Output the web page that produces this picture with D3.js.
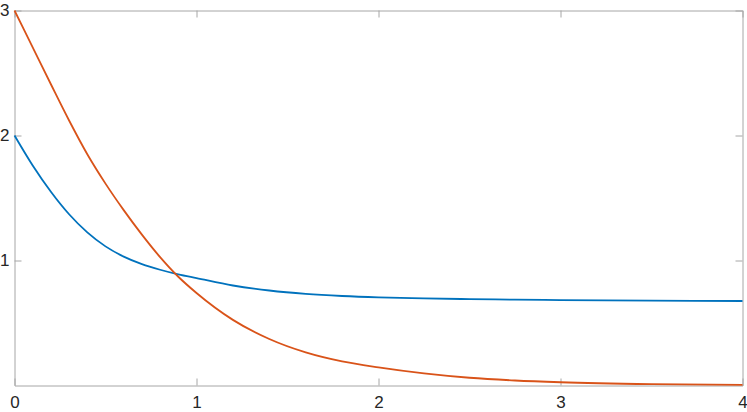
<!DOCTYPE html>
<html>
<head>
<meta charset="utf-8">
<script src="https://cdn.jsdelivr.net/npm/d3@7"></script>
<style>
  body { margin: 0; background: #fff; }
  .axis path, .axis line { stroke: #a6a6a6; }
  .axis text { font-family: 'Liberation Sans', Arial, sans-serif; font-size: 17px; fill: #262626; }
</style>
</head>
<body>
<script>
// values
const tValues = [0, 0.1, 0.2, 0.3, 0.4, 0.5, 0.6, 0.7, 0.8, 0.9, 1.0, 1.2, 1.4, 1.6, 1.8, 2.0, 2.25, 2.5, 2.75, 3.0, 3.5, 4.0]
const blueValues = [2.0, 1.76, 1.55, 1.37, 1.225, 1.113, 1.031, 0.971, 0.926, 0.889, 0.859, 0.80, 0.76, 0.733, 0.716, 0.705, 0.697, 0.691, 0.687, 0.683, 0.679, 0.676]
const orangeValues = [3.0, 2.705, 2.41, 2.12, 1.85, 1.615, 1.403, 1.207, 1.027, 0.87, 0.74, 0.525, 0.372, 0.265, 0.193, 0.145, 0.097, 0.062, 0.04, 0.026, 0.011, 0.005]
const xTicks = [0, 1, 2, 3, 4]
const yTicks = [1, 2, 3]

const width = 747, height = 412
const margin = {left: 14.5, right: 4.5, top: 10.5, bottom: 26.5}

const svg = d3.select('body').append('svg').attr('width', width).attr('height', height)

const x = d3.scaleLinear().domain([0, 4]).range([margin.left, width - margin.right])
const y = d3.scaleLinear().domain([0, 3]).range([height - margin.bottom, margin.top])

const tickLen = 7

// box with inward ticks on every side
svg.append('g').attr('class', 'axis')
  .attr('transform', `translate(0,${y(0)})`)
  .call(d3.axisBottom(x).tickValues(xTicks).tickSizeInner(-tickLen).tickSizeOuter(0).tickPadding(10).tickFormat(d3.format('d')))

svg.append('g').attr('class', 'axis')
  .attr('transform', `translate(${x(0)},0)`)
  .call(d3.axisLeft(y).tickValues(yTicks).tickSizeInner(-tickLen).tickSizeOuter(0).tickPadding(5).tickFormat(d3.format('d')))

svg.append('g').attr('class', 'axis')
  .attr('transform', `translate(0,${y(3)})`)
  .call(d3.axisTop(x).tickValues(xTicks).tickSizeInner(-tickLen).tickSizeOuter(0).tickFormat(''))

svg.append('g').attr('class', 'axis')
  .attr('transform', `translate(${x(4)},0)`)
  .call(d3.axisRight(y).tickValues(yTicks).tickSizeInner(-tickLen).tickSizeOuter(0).tickFormat(''))

const line = vals => d3.line()
  .x((d, i) => x(tValues[i]))
  .y(d => y(d))
  .curve(d3.curveMonotoneX)(vals)

svg.append('path').attr('d', line(blueValues))
  .attr('fill', 'none').attr('stroke', '#0072BD').attr('stroke-width', 1.8)

svg.append('path').attr('d', line(orangeValues))
  .attr('fill', 'none').attr('stroke', '#D95319').attr('stroke-width', 1.8)
</script>
</body>
</html>
